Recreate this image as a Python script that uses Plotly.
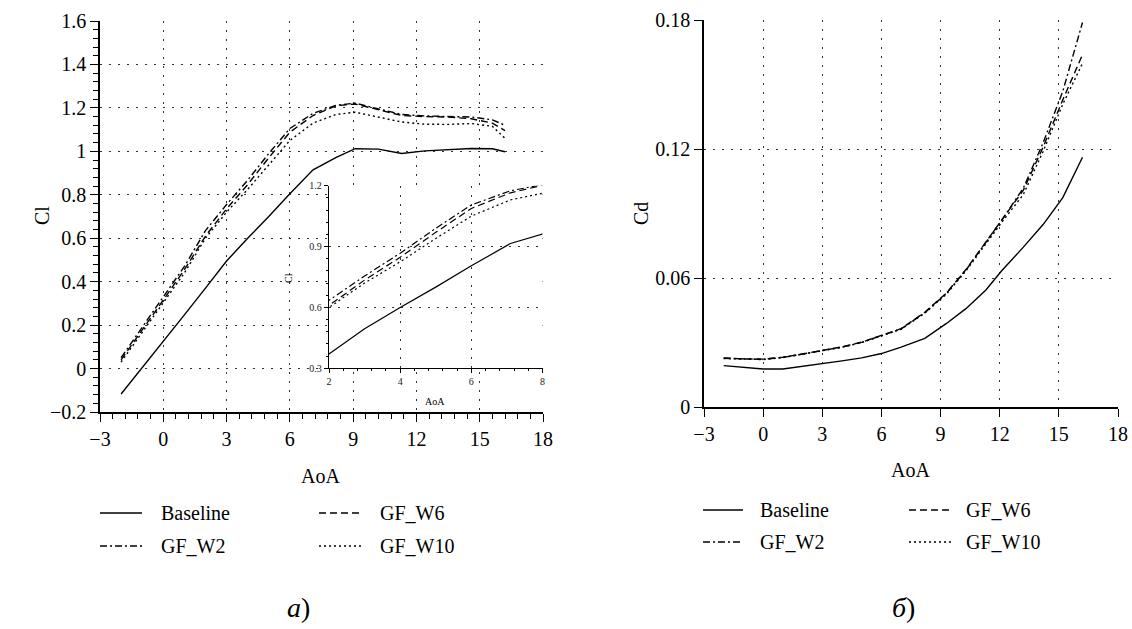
import plotly.graph_objects as go

# ---------------- data ----------------
aoa_cl = [-2, -1, 0, 1, 2, 3, 4, 5, 6, 7.1, 8.2, 9.1, 10.2, 11.3, 12.4, 13.5, 14.6, 15.6, 16.2]
cl_baseline = [-0.117, 0.003, 0.125, 0.247, 0.37, 0.495, 0.60, 0.70, 0.805, 0.915, 0.972, 1.012,
               1.010, 0.990, 1.002, 1.009, 1.013, 1.012, 0.998]
cl_gf_w2 = [0.05, 0.19, 0.33, 0.47, 0.635, 0.755, 0.867, 0.99, 1.105, 1.175, 1.212, 1.222,
            1.195, 1.170, 1.163, 1.162, 1.158, 1.145, 1.120]
cl_gf_w6 = [0.04, 0.175, 0.315, 0.455, 0.61, 0.735, 0.847, 0.97, 1.088, 1.165, 1.210, 1.218,
            1.190, 1.165, 1.160, 1.158, 1.150, 1.130, 1.095]
cl_gf_w10 = [0.03, 0.165, 0.30, 0.44, 0.60, 0.72, 0.825, 0.94, 1.05, 1.13, 1.17, 1.18,
             1.157, 1.135, 1.125, 1.124, 1.128, 1.115, 1.060]

aoa_cd = [-2, -1, 0, 1, 2, 3, 4, 5, 6, 7, 8.2, 9.3, 10.3, 11.3, 12.1, 13.2, 14.2, 15.2, 16.2]
cd_baseline = [0.0194, 0.0185, 0.0178, 0.0178, 0.0190, 0.0203, 0.0216, 0.0230, 0.0250, 0.0280,
               0.0321, 0.0390, 0.0460, 0.0546, 0.0635, 0.0745, 0.0850, 0.0975, 0.1163]
cd_gf_w2 = [0.0228, 0.0224, 0.0223, 0.0232, 0.0247, 0.0262, 0.0280, 0.0302, 0.0332, 0.0365,
            0.0440, 0.0530, 0.0640, 0.0770, 0.0870, 0.1020, 0.1230, 0.1470, 0.1790]
cd_gf_w6 = [0.0230, 0.0225, 0.0224, 0.0233, 0.0248, 0.0263, 0.0281, 0.0303, 0.0333, 0.0366,
            0.0442, 0.0532, 0.0642, 0.0770, 0.0870, 0.1010, 0.1210, 0.1430, 0.1640]
cd_gf_w10 = [0.0227, 0.0223, 0.0222, 0.0231, 0.0246, 0.0261, 0.0279, 0.0301, 0.0331, 0.0363,
             0.0438, 0.0527, 0.0636, 0.0762, 0.0860, 0.0990, 0.1190, 0.1410, 0.1600]

series_names = ["Baseline", "GF_W2", "GF_W6", "GF_W10"]

W, H = 1132, 629
FONT = "Liberation Serif"
DASH = {"Baseline": "solid", "GF_W2": "7px,3px,2px,3px", "GF_W6": "7px,4px", "GF_W10": "2px,3px"}


def px(x):
    return x / W


def py(y):
    return 1 - y / H


fig = go.Figure()

cl_series = {"Baseline": cl_baseline, "GF_W2": cl_gf_w2, "GF_W6": cl_gf_w6, "GF_W10": cl_gf_w10}
cd_series = {"Baseline": cd_baseline, "GF_W2": cd_gf_w2, "GF_W6": cd_gf_w6, "GF_W10": cd_gf_w10}

for name in series_names:
    fig.add_trace(go.Scatter(x=aoa_cl, y=cl_series[name], mode="lines", name=name,
                             line=dict(color="black", width=1.4, dash=DASH[name]),
                             xaxis="x", yaxis="y", showlegend=False))
for name in series_names:
    fig.add_trace(go.Scatter(x=aoa_cd, y=cd_series[name], mode="lines", name=name,
                             line=dict(color="black", width=1.4, dash=DASH[name]),
                             xaxis="x2", yaxis="y2", showlegend=False))
for name in series_names:
    fig.add_trace(go.Scatter(x=aoa_cl, y=cl_series[name], mode="lines", name=name,
                             line=dict(color="black", width=1.2, dash=DASH[name]),
                             xaxis="x3", yaxis="y3", showlegend=False))

grid = dict(showgrid=True, gridcolor="#333", gridwidth=1, griddash="2px,7px", zeroline=False,
            showline=True, linecolor="black", linewidth=1.5, ticks="outside", tickcolor="black",
            tickwidth=1.3, ticklen=8, automargin=False,
            tickfont=dict(family=FONT, size=20, color="black"))

fig.update_layout(
    width=W, height=H, margin=dict(l=0, r=0, t=0, b=0, autoexpand=False),
    paper_bgcolor="white", plot_bgcolor="white", showlegend=False,
    xaxis=dict(domain=[px(100), px(543)], range=[-3, 18], dtick=3, tick0=0, anchor="y",
               minor=dict(dtick=0.6, tick0=0, ticks="outside", ticklen=5, tickwidth=1,
                          tickcolor="black", showgrid=False),
               **grid),
    yaxis=dict(domain=[py(412), py(21)], range=[-0.2, 1.6], dtick=0.2, tick0=0, anchor="x",
               minor=dict(dtick=0.04, tick0=0, ticks="outside", ticklen=5, tickwidth=1,
                          tickcolor="black", showgrid=False),
               **grid),
    xaxis2=dict(domain=[px(704), px(1118)], range=[-3, 18], dtick=3, tick0=0, anchor="y2", **grid),
    yaxis2=dict(domain=[py(407.3), py(20.3)], range=[0, 0.18], dtick=0.06, tick0=0, anchor="x2",
                **grid),
)

inset = dict(grid)
inset.update(linewidth=1.3, ticklen=4, tickwidth=1, tickfont=dict(family=FONT, size=10, color="#222"))
fig.update_layout(
    xaxis3=dict(domain=[px(329), px(542.5)], range=[2, 8], dtick=2, anchor="y3",
                minor=dict(dtick=0.4, tick0=0, ticks="outside", ticklen=2, tickwidth=1,
                           tickcolor="black", showgrid=False),
                **inset),
    yaxis3=dict(domain=[py(368.3), py(185.7)], range=[0.3, 1.2], dtick=0.3, tick0=0, anchor="x3",
                minor=dict(dtick=0.06, tick0=0, ticks="outside", ticklen=2, tickwidth=1,
                           tickcolor="black", showgrid=False),
                **inset),
)

ann = []


def text(x, y, t, size=20, angle=0, xanchor="center"):
    ann.append(dict(x=px(x), y=py(y), xref="paper", yref="paper", text=t, showarrow=False,
                    font=dict(family=FONT, size=size, color="black"), textangle=angle,
                    xanchor=xanchor, yanchor="middle"))


# axis titles
text(320, 476, "AoA")
text(42, 216, "Cl", angle=-90)
text(910, 470, "AoA")
text(641, 214, "Cd", angle=-90)
text(435, 401, "AoA", size=10)
text(288, 278, "Cl", size=10, angle=-90)
# captions
text(298, 607, "<i>a</i>)", size=28)
text(903, 607, "<i>б</i>)", size=28)

# legends
shapes = []
legend_layout = [
    # (name, line_x0, line_x1, text_x, y) left panel
    ("Baseline", 100, 142, 159, 513), ("GF_W6", 319, 362, 378, 513),
    ("GF_W2", 100, 142, 159, 546), ("GF_W10", 319, 362, 378, 546),
    # right panel
    ("Baseline", 703, 743, 758, 510), ("GF_W6", 909, 951, 964, 510),
    ("GF_W2", 703, 743, 758, 542), ("GF_W10", 909, 951, 964, 542),
]
for name, x0, x1, tx, y in legend_layout:
    shapes.append(dict(type="line", xref="paper", yref="paper", x0=px(x0), x1=px(x1),
                       y0=py(y), y1=py(y), line=dict(color="black", width=1.4, dash=DASH[name])))
    text(tx, y, name, size=20, xanchor="left")

fig.update_layout(annotations=ann, shapes=shapes)

# remove the browser's default 8px body margin so the figure sits at the page origin
fig.write_html("out.html", config={"displayModeBar": False},
               post_script="document.body.style.margin='0';document.body.style.overflow='hidden';")
